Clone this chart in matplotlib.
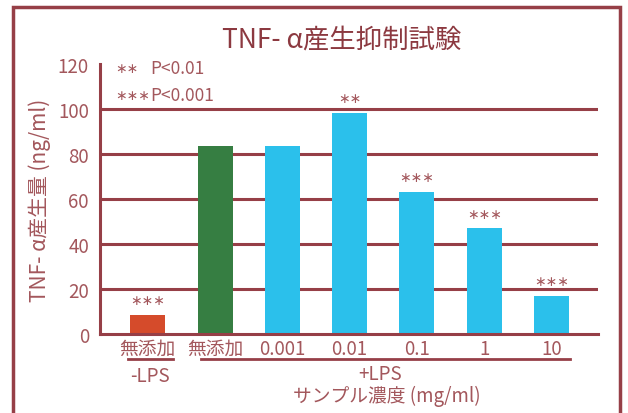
import matplotlib.pyplot as plt
from matplotlib.patches import Rectangle
from matplotlib.lines import Line2D
import matplotlib.transforms as mtransforms

plt.rcParams['font.family'] = ['Noto Sans CJK JP', 'DejaVu Sans']

categories = ['無添加', '無添加', '0.001', '0.01', '0.1', '1', '10']
values = [8.4, 83.5, 83.5, 98.2, 63.2, 46.9, 16.8]
stars = ['***', '', '', '**', '***', '***', '***']
colors = ['#D54B2B', '#367E42', '#2BC0EB', '#2BC0EB', '#2BC0EB', '#2BC0EB', '#2BC0EB']
yticks = [0, 20, 40, 60, 80, 100, 120]

line_c = '#963F47'
text_c = '#A3575C'
title_c = '#8C3940'
star_font = ['DejaVu Sans']


def star_str(s):
    return s.replace('*', '∗')


fig = plt.figure(figsize=(6.28, 4.14), dpi=100)
ax = fig.add_axes([100 / 628, 79 / 414, 498 / 628, 270 / 414])

x = list(range(len(categories)))
for v in [20, 40, 60, 80, 100]:
    ax.axhline(v, color=line_c, lw=2.2, zorder=1)
ax.bar(x, values, width=0.52, color=colors, zorder=2)

for xi, v, s in zip(x, values, stars):
    if s:
        ax.text(xi, v + 3.5, star_str(s), ha='center', va='bottom', color=text_c,
                fontsize=10, family=star_font)

ax.set_xlim(-0.71, 6.69)
ax.set_ylim(0, 120)
ax.set_yticks(yticks)
ax.set_xticks(x)
ax.set_xticklabels(categories)
ax.tick_params(axis='y', colors=text_c, labelcolor=text_c, labelsize=13.5, length=0, pad=8)
ax.tick_params(axis='x', labelcolor=text_c, labelsize=13.5, length=0, pad=3)
for sp in ['top', 'right']:
    ax.spines[sp].set_visible(False)
for sp in ['left', 'bottom']:
    ax.spines[sp].set_color(line_c)
    ax.spines[sp].set_linewidth(2.2)
    ax.spines[sp].set_zorder(3)

ax.set_ylabel('TNF- α産生量 (ng/ml)', color=text_c, fontsize=15, labelpad=5)

ax.text(0.03, 0.985, star_str('**'), transform=ax.transAxes, color=text_c,
        fontsize=10, va='center', family=star_font)
ax.text(0.10, 0.985, 'P<0.01', transform=ax.transAxes, color=text_c,
        fontsize=12.5, va='center')
ax.text(0.03, 0.885, star_str('***'), transform=ax.transAxes, color=text_c,
        fontsize=10, va='center', family=star_font)
ax.text(0.10, 0.885, 'P<0.001', transform=ax.transAxes, color=text_c,
        fontsize=12.5, va='center')

fig.text(342 / 628, 1 - 40 / 414, 'TNF- α産生抑制試験', ha='center', va='center',
         color=title_c, fontsize=19)

# group lines and labels below the axis
tr = mtransforms.blended_transform_factory(ax.transData, fig.transFigure)
yl = 1 - 360 / 414
fig.add_artist(Line2D([-0.29, 0.37], [yl, yl], transform=tr, color=line_c, lw=2))
fig.add_artist(Line2D([0.79, 6.27], [yl, yl], transform=tr, color=line_c, lw=2))
fig.text(0.03, 1 - 377 / 414, '-LPS', transform=tr, ha='center', va='center',
         color=text_c, fontsize=13.5)
fig.text(3.45, 1 - 375 / 414, '+LPS', transform=tr, ha='center', va='center',
         color=text_c, fontsize=13.5)
fig.text(3.55, 1 - 396 / 414, 'サンプル濃度 (mg/ml)', transform=tr, ha='center',
         va='center', color=text_c, fontsize=13.5)

fig.add_artist(Rectangle((13 / 628, -0.05), 607 / 628, 1.05 - 8 / 414,
                         transform=fig.transFigure, fill=False,
                         edgecolor=line_c, lw=2.5))

plt.savefig('out.png', dpi=100)
